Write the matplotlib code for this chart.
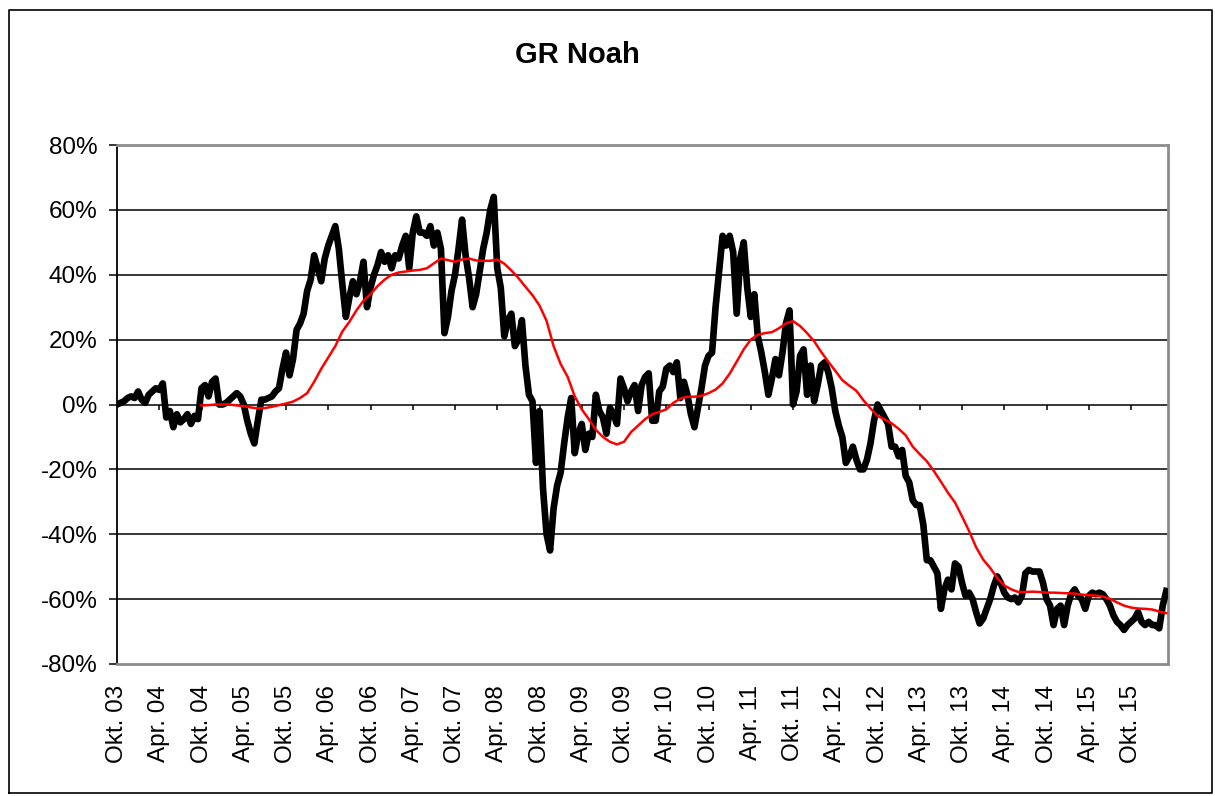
import matplotlib.pyplot as plt
from matplotlib.lines import Line2D
import numpy as np

plt.rcParams['font.family'] = ['Liberation Sans', 'DejaVu Sans']

# GR Noah performance in %, two readings per month (one row = half a year)
perf = [
    0, 0.5, 1, 2, 2.5, 2, 4, 1.5, 0.5, 3, 4, 5,
    4.5, 6.5, -4, -2, -7, -3, -5.5, -4.5, -3, -6, -3.5, -4.5,
    5, 6, 2.5, 7, 8, 0, 0, 0.5, 1.5, 2.5, 3.5, 2.5,
    0, -5, -9, -12, -5, 1.5, 1.5, 2, 2.5, 4, 5, 11,
    16, 9, 14, 23, 25, 28, 35, 38.5, 46, 42, 38, 45,
    49, 52, 55, 48, 37, 27, 33, 38, 34, 38, 44, 30,
    36, 40, 43, 47, 44, 46, 42, 46, 45, 49, 52, 42,
    53, 58, 53, 53, 52, 55, 49, 53, 48, 22, 27, 35,
    40, 48, 57, 46, 39, 30, 34, 41, 48, 53, 60, 64,
    42, 36, 21, 26, 28, 18, 20, 26, 12, 3, 1, -18,
    -2, -26, -40, -45, -32, -25, -21, -12, -4, 2, -15, -9,
    -6, -14, -9, -10, 3, -2, -4, -9, -1, -3, -6, 8,
    5, 1, 4, 6, -2, 6, 8.5, 9.6, -5, -5, 4, 5.5,
    11, 12, 10, 13, 2, 7, 3, -3, -7, -1, 5, 12,
    15, 16, 30, 41, 52, 49, 52, 47, 28, 45, 50, 36,
    27, 34, 21, 16, 10, 3, 8, 14, 9, 16, 25, 29,
    0, 4, 15, 17, 3, 12, 1, 6, 12, 13, 10, 5,
    -2, -6.5, -10, -18, -16, -13, -17, -20, -20, -17, -12, -5,
    0, -2, -4, -6, -13, -13, -16, -14, -22, -24, -29.5, -31,
    -31, -37, -48, -48, -50, -52, -63, -57, -54, -57, -49, -50,
    -55, -59, -58, -60, -64, -67.5, -66, -63, -60, -56, -53, -55,
    -58, -59.5, -60, -59.5, -61, -59, -52, -51, -51.5, -51.5, -51.5, -55,
    -60, -62, -68, -63, -62, -68, -62, -58.5, -57, -59, -60, -63,
    -59, -58, -58.5, -58, -58.5, -60, -62, -65, -67, -68, -69.5, -68,
    -67, -66, -64, -67, -68, -67, -68, -68, -69, -62, -57.5,
]

# moving average in %, one reading per month, starting Okt. 04
avg = [
    -0.3, -0.2, 0, 0, 0, -0.3, -0.5, -0.9, -1.2, -1.1, -0.7, -0.2,
    0.3, 0.9, 2, 3.5, 7, 11, 14.5, 18, 22.5, 25.5, 29, 32,
    34, 36.5, 38.5, 40, 40.7, 41, 41.3, 41.5, 42, 43.5, 45, 44.5,
    44, 44.7, 45, 44.4, 44.3, 44.3, 44.7, 43.4, 41.3, 39, 36.3, 33.7,
    30.5, 25.8, 18, 12.5, 8.5, 2.5, -1.5, -4.5, -7.8, -10, -11.5, -12.3,
    -11.5, -8.5, -6.5, -4.5, -3, -2.3, -1.5, 0.5, 1.8, 2.4, 2.4, 2.7,
    3.5, 4.6, 6.5, 9.5, 13.2, 17, 20, 21.5, 22, 22.3, 23.5, 25,
    25.7, 24.2, 22, 19.5, 16.2, 13.2, 10.4, 7.5, 5.8, 4.2, 1.3, -1.2,
    -3.5, -4.6, -5.8, -7.5, -9.5, -13, -15.3, -17.5, -20.5, -23.8, -27.2, -30.2,
    -34.5, -39, -44, -47.8, -50.4, -53.5, -55.8, -57, -57.8, -57.8, -57.7, -57.8,
    -58, -58, -58.1, -58.2, -58.3, -58.6, -58.8, -58.9, -59.2, -59.9, -61, -62,
    -62.6, -62.9, -63, -63.2, -63.8, -64.3,
]
avg_start = 24  # Okt. 04 on the half-month scale

tick_labels = ['Okt. 03', 'Apr. 04', 'Okt. 04', 'Apr. 05', 'Okt. 05', 'Apr. 06',
               'Okt. 06', 'Apr. 07', 'Okt. 07', 'Apr. 08', 'Okt. 08', 'Apr. 09',
               'Okt. 09', 'Apr. 10', 'Okt. 10', 'Apr. 11', 'Okt. 11', 'Apr. 12',
               'Okt. 12', 'Apr. 13', 'Okt. 13', 'Apr. 14', 'Okt. 14', 'Apr. 15',
               'Okt. 15']
y_ticks = [-80, -60, -40, -20, 0, 20, 40, 60, 80]

W, H = 1215, 796
fig = plt.figure(figsize=(W / 100, H / 100), dpi=100)
ax = fig.add_axes([117 / W, 1 - 664 / H, (1168 - 117) / W, (664 - 145) / H])

x_perf = np.arange(len(perf))
x_avg = avg_start + 2 * np.arange(len(avg))

for yv in y_ticks[1:-1]:
    ax.axhline(yv, color='black', lw=1.1, zorder=1)

ax.plot(x_perf, perf, color='black', lw=4.8, solid_joinstyle='round', zorder=3)
ax.plot(x_avg, avg, color='#ff0000', lw=1.8, zorder=4)

# category ticks sitting on the 0% line
xt = 12 * np.arange(len(tick_labels))
ax.vlines(xt[1:], -1.6, 0, color='black', lw=1.1, zorder=2)

ax.set_xlim(0, len(perf) - 0.5)
ax.set_ylim(-80, 80)
ax.set_yticks(y_ticks)
ax.set_yticklabels([f'{v}%' for v in y_ticks])
ax.set_xticks(xt)
ax.set_xticklabels(tick_labels, rotation=90, va='top', ha='center')

ax.tick_params(axis='x', length=0, pad=15, labelsize=17.5)
ax.tick_params(axis='y', length=6, width=1.1, direction='out', pad=8,
               labelsize=17.5, color='black')

for side in ['top', 'right', 'bottom']:
    ax.spines[side].set_color('#8c8c8c')
    ax.spines[side].set_linewidth(2)
ax.spines['left'].set_color('black')
ax.spines['left'].set_linewidth(1.3)

fig.text(577 / W, 1 - 55 / H, 'GR Noah', ha='center', va='center',
         fontsize=21, fontweight='bold')

# outer chart border
fx = [9 / W, 9 / W, 1212 / W, 1212 / W, 9 / W]
fy = [1 - 793 / H, 1 - 10 / H, 1 - 10 / H, 1 - 793 / H, 1 - 793 / H]
fig.add_artist(Line2D(fx, fy, color='black', lw=1.2, transform=fig.transFigure))

fig.savefig('out.png', dpi=100)
